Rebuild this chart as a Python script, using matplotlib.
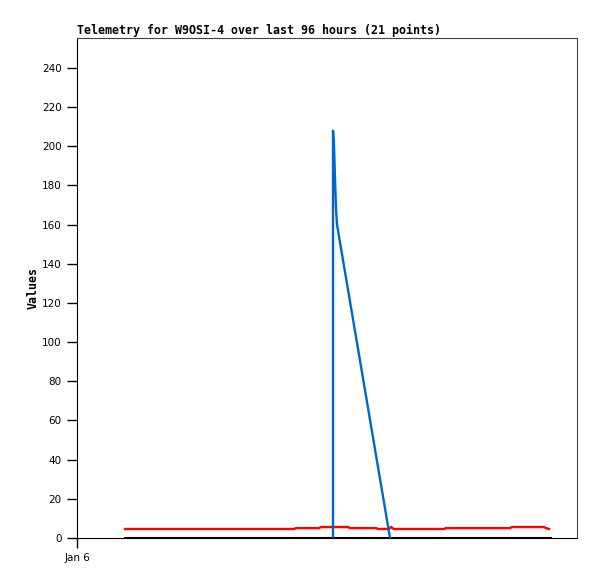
import matplotlib
matplotlib.use("Agg")
import matplotlib.pyplot as plt

# x positions in hours since the left edge of the axis (Jan 6)
red_x = [9.6, 43.4, 43.8, 48.4, 48.8, 54.2, 54.6, 59.8, 60.2, 62.4, 62.8, 63.4, 73.4, 73.8, 86.6, 87.0, 93.4, 93.8, 94.4]
red_y = [4.6, 4.6, 5.1, 5.1, 5.6, 5.6, 5.1, 5.1, 4.6, 4.6, 5.6, 4.6, 4.6, 5.1, 5.1, 5.6, 5.6, 5.1, 4.6]

black_x = [9.6, 94.6]
black_y = [0, 0]

blue_x = [51.2, 51.2, 51.4, 51.6, 51.8, 52.0, 62.6]
blue_y = [0, 208, 200, 184, 168, 160, 0]

yticks = [0, 20, 40, 60, 80, 100, 120, 140, 160, 180, 200, 220, 240]
xtick_labels = ["Jan 6"]
title = "Telemetry for W9OSI-4 over last 96 hours (21 points)"

fig = plt.figure(figsize=(5.97, 5.79), dpi=100)
ax = fig.add_axes([77/597, (579-538)/579, 500/597, 500/579])

ax.plot(red_x, red_y, color="#ff0000", lw=1.7, solid_joinstyle="miter")
ax.plot(black_x, black_y, color="#000000", lw=2.2)
ax.plot(blue_x, blue_y, color="#0066cc", lw=1.7)

ax.set_xlim(0, 100)
ax.set_ylim(0, 255.3)
ax.set_yticks(yticks)
ax.set_yticklabels([str(v) for v in yticks], fontsize=7.5)
ax.set_xticks([0])
ax.set_xticklabels(xtick_labels, fontsize=7.5)
ax.tick_params(axis="both", direction="out", length=7, width=1, pad=4)

for s in ["top", "right"]:
    ax.spines[s].set_color("#444444")
for s in ["left", "bottom"]:
    ax.spines[s].set_color("#000000")

ax.set_title(title, loc="left", fontsize=8.35, fontweight="bold",
             family="DejaVu Sans Mono", pad=3)
ax.set_ylabel("Values", fontsize=8.35, fontweight="bold",
              family="DejaVu Sans Mono", labelpad=2)

fig.savefig("out.png", dpi=100)
